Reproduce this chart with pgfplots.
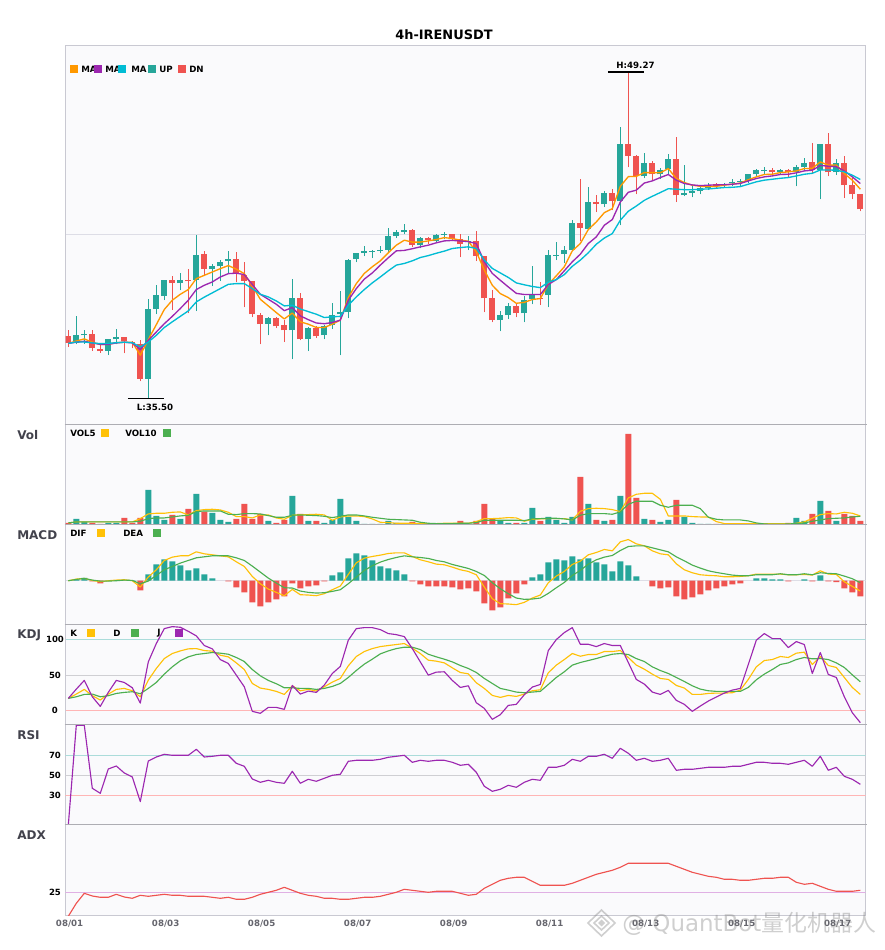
\documentclass[border=0pt]{standalone}
\usepackage{fontspec}
\setmainfont{DejaVu Sans}
\newfontfamily\cjk{Noto Sans CJK SC}
\usepackage{pgfplots}
\usepackage{pgfplotstable}
\pgfplotsset{compat=1.18}
\definecolor{upc}{HTML}{26A69A}
\definecolor{dnc}{HTML}{EF5350}
\definecolor{ma1}{HTML}{FF9800}
\definecolor{ma2}{HTML}{9C27B0}
\definecolor{ma3}{HTML}{00BCD4}
\definecolor{yel}{HTML}{FFC107}
\definecolor{grn}{HTML}{4CAF50}
\definecolor{pur}{HTML}{9C27B0}
\definecolor{bgc}{HTML}{FAFAFC}
\definecolor{bord}{HTML}{C9C9D2}
\definecolor{divi}{HTML}{ADADB3}
\definecolor{gridc}{HTML}{DDDDE6}
\definecolor{hi}{HTML}{ABDCDA}
\definecolor{mid}{HTML}{CFCFD3}
\definecolor{lo}{HTML}{FFB5B5}
\definecolor{adxl}{HTML}{E0B0E4}
\definecolor{lab}{HTML}{42424C}
\definecolor{xlab}{HTML}{66666E}
\pgfplotstableread{
i low high bot top
1 37.79 38.97 37.85 38.17
2 37.82 38.38 38.17 38.22
5 37.34 38.00 37.50 38.00
6 37.79 38.43 38.00 38.09
10 35.50 39.69 36.33 39.27
11 39.06 40.28 39.27 39.86
12 39.65 40.49 39.82 40.49
14 40.07 40.79 40.37 40.49
16 39.19 42.39 40.49 41.55
18 40.24 41.17 40.96 41.08
19 40.45 41.34 41.08 41.25
20 40.79 41.72 41.29 41.38
25 38.17 38.93 38.64 38.89
28 37.16 40.53 38.38 39.73
30 37.50 38.51 38.00 38.47
32 38.00 38.59 38.17 38.55
33 38.43 39.52 38.60 39.02
34 37.33 40.03 39.06 39.14
35 38.89 41.38 39.14 41.34
36 41.25 41.63 41.38 41.63
37 41.51 41.93 41.63 41.72
38 41.42 41.76 41.70 41.73
39 41.63 41.93 41.72 41.76
40 41.67 42.69 41.76 42.35
41 42.27 42.60 42.35 42.52
42 42.43 42.86 42.52 42.60
44 41.84 42.31 41.97 42.27
46 42.10 42.43 42.14 42.39
47 42.22 42.52 42.39 42.43
50 41.76 42.35 42.10 42.14
54 38.34 39.19 38.81 39.02
55 38.85 39.52 39.02 39.40
57 38.72 39.82 39.10 39.65
58 39.48 41.08 39.69 39.86
60 39.35 41.76 39.86 41.55
61 41.34 42.10 41.51 41.55
62 41.21 41.93 41.59 41.76
63 41.76 43.03 41.76 42.90
65 42.65 44.42 42.65 43.78
67 43.57 44.24 43.69 44.16
69 42.81 46.94 43.82 46.23
72 44.79 45.85 44.87 45.42
74 44.75 45.21 44.96 45.13
75 44.96 45.80 45.17 45.59
77 44.03 45.34 44.07 44.16
78 43.99 44.45 44.16 44.24
79 44.11 44.41 44.24 44.37
80 44.29 44.58 44.37 44.45
82 44.37 44.58 44.50 44.54
83 44.45 44.75 44.58 44.62
84 44.45 44.75 44.62 44.66
85 44.58 44.96 44.66 44.96
86 44.83 45.17 44.96 45.13
87 44.92 45.25 45.09 45.13
89 44.92 45.17 45.04 45.13
91 44.45 45.34 45.04 45.25
92 45.09 45.63 45.25 45.42
94 43.90 46.23 45.13 46.23
96 44.92 45.59 45.04 45.42
}\candleup
\pgfplotstableread{
i low high bot top
0 37.68 38.38 37.85 38.13
3 37.51 38.38 37.62 38.22
4 37.43 37.79 37.50 37.58
7 37.41 38.09 37.92 38.09
8 37.62 37.92 37.83 37.88
9 36.23 37.96 36.33 37.79
13 39.23 40.66 40.37 40.49
15 39.10 40.96 40.45 40.49
17 40.66 41.72 40.96 41.59
21 40.41 41.67 40.75 41.38
22 39.35 41.25 40.45 40.70
23 38.93 40.45 39.06 40.45
24 37.79 39.10 38.64 39.02
26 38.47 38.93 38.55 38.89
27 37.88 38.80 38.38 38.59
29 37.96 39.94 38.00 39.73
31 38.05 38.55 38.13 38.47
43 41.89 42.65 41.97 42.60
45 42.01 42.31 42.18 42.27
48 42.14 42.43 42.22 42.43
49 41.46 42.43 42.01 42.22
51 41.30 42.56 41.51 42.14
52 39.14 41.51 39.73 41.51
53 38.72 40.07 38.81 39.73
56 38.93 39.52 39.10 39.40
59 39.44 40.41 39.72 39.76
64 42.14 44.75 42.69 42.90
66 43.36 44.08 43.70 43.78
68 43.44 44.33 43.82 44.16
70 45.25 49.27 45.72 46.23
71 44.11 45.76 44.87 45.72
73 44.71 45.51 44.96 45.42
76 43.78 46.52 44.07 45.59
81 44.37 44.58 44.45 44.54
88 44.87 45.21 45.04 45.13
90 44.83 45.17 45.04 45.13
93 45.00 46.27 45.13 45.47
95 44.87 46.69 45.04 46.23
97 43.95 45.72 44.50 45.42
98 43.90 44.79 44.11 44.50
99 43.40 44.11 43.48 44.11
}\candledn
\pgfplotstableread{
i a b c
0 37.83 37.83 37.83
1 37.93 37.88 37.89
2 38.02 37.92 37.89
3 37.88 37.85 37.85
4 37.78 37.79 37.82
5 37.79 37.79 37.83
6 37.86 37.85 37.86
7 37.88 37.88 37.88
8 37.88 37.85 37.86
9 37.33 37.57 37.68
10 37.99 37.96 37.89
11 38.62 38.31 38.17
12 39.26 38.66 38.50
13 39.65 38.97 38.74
14 39.90 39.30 38.97
15 40.10 39.65 39.20
16 40.56 40.10 39.58
17 40.70 40.28 39.78
18 40.84 40.42 39.96
19 40.98 40.63 40.14
20 41.11 40.77 40.32
21 40.96 40.79 40.35
22 40.77 40.73 40.35
23 40.25 40.31 40.14
24 39.69 39.90 39.90
25 39.41 39.69 39.79
26 39.13 39.48 39.62
27 38.86 39.21 39.41
28 39.11 39.34 39.44
29 38.74 38.99 39.28
30 38.64 38.83 39.17
31 38.50 38.69 39.06
32 38.50 38.66 38.92
33 38.64 38.71 38.95
34 38.81 38.81 38.97
35 39.76 39.65 39.44
36 40.35 40.14 39.79
37 40.78 40.54 40.10
38 41.06 40.80 40.38
39 41.31 41.13 40.63
40 41.65 41.44 40.89
41 41.97 41.73 41.13
42 42.18 41.75 41.20
43 42.10 41.82 41.31
44 42.10 41.90 41.45
45 42.15 41.97 41.53
46 42.21 42.07 41.63
47 42.29 42.15 41.72
48 42.25 42.17 41.83
49 42.18 42.15 41.87
50 42.14 42.12 41.90
51 41.69 42.04 41.83
52 40.92 41.27 41.34
53 40.28 40.78 40.99
54 39.93 40.49 40.80
55 39.76 40.21 40.61
56 39.52 39.94 40.38
57 39.56 39.89 40.30
58 39.68 39.89 40.23
59 39.72 39.89 40.18
60 40.32 40.31 40.41
61 40.68 40.52 40.52
62 41.06 40.89 40.73
63 41.73 41.27 41.08
64 42.04 41.59 41.34
65 42.63 42.04 41.65
66 42.95 42.32 42.01
67 43.34 42.81 42.27
68 43.51 43.05 42.46
69 44.45 43.79 43.02
70 44.86 44.20 43.40
71 44.87 44.29 43.62
72 45.03 44.59 43.86
73 45.03 44.68 44.03
74 45.02 44.82 44.19
75 45.20 44.95 44.35
76 44.78 44.71 44.33
77 44.61 44.57 44.31
78 44.50 44.51 44.31
79 44.45 44.48 44.33
80 44.45 44.50 44.34
81 44.45 44.51 44.37
82 44.50 44.52 44.40
83 44.54 44.54 44.41
84 44.59 44.57 44.44
85 44.73 44.68 44.54
86 44.85 44.78 44.64
87 44.95 44.85 44.71
88 44.96 44.89 44.75
89 45.03 44.95 44.79
90 45.06 44.96 44.82
91 45.10 45.02 44.89
92 45.20 45.10 44.96
93 45.21 45.13 45.00
94 45.48 45.33 45.14
95 45.34 45.30 45.14
96 45.35 45.28 45.13
97 44.99 45.10 45.06
98 44.71 44.85 44.92
99 44.33 44.57 44.74
}\matable
\pgfplotstableread{
i v
1 17
2 8
5 5
6 5
10 104
11 26
12 14
14 17
16 92
18 35
19 14
20 8
25 11
28 86
30 11
32 5
33 14
34 77
35 23
36 11
37 2
38 2
39 2
40 11
41 5
42 4
44 2
46 2
47 2
50 3
54 12
55 5
57 5
58 50
60 23
61 14
62 5
63 23
65 62
67 11
69 86
72 17
74 8
75 14
77 23
78 5
79 2
80 2
82 2
83 1
84 1
85 1
86 1
87 1
89 1
91 20
92 11
94 71
96 11
}\volup
\pgfplotstableread{
i v
0 5
3 5
4 2
7 20
8 5
9 20
13 29
15 47
17 39
21 17
22 62
23 17
24 32
26 5
27 14
29 32
31 11
43 8
45 2
48 2
49 11
51 11
52 62
53 18
56 5
59 11
64 143
66 14
68 14
70 272
71 80
73 14
76 74
81 2
88 1
90 5
93 32
95 41
97 32
98 26
99 11
}\voldn
\pgfplotstableread{
i a b
0 5 5
1 8 8
2 8 8
3 8 8
4 8 8
5 8 8
6 8 8
7 8 8
8 8 8
9 18 10
10 32 18
11 34 20
12 34 20
13 37 23
14 38 26
15 29 28
16 42 39
17 45 41
18 46 41
19 44 41
20 37 31
21 24 30
22 24 33
23 20 33
24 29 32
25 29 27
26 20 22
27 16 22
28 28 28
29 30 29
30 30 28
31 31 27
32 29 25
33 13 21
34 23 25
35 26 29
36 26 29
37 24 26
38 17 22
39 7 19
40 6 16
41 4 15
42 4 14
43 4 13
44 3 7
45 3 4
46 3 3
47 4 3
48 4 3
49 4 4
50 4 4
51 9 6
52 18 13
53 18 13
54 19 13
55 21 13
56 20 13
57 10 12
58 16 17
59 17 18
60 18 19
61 18 19
62 18 17
63 14 14
64 40 28
65 48 33
66 49 33
67 48 33
68 45 31
69 39 38
70 80 61
71 91 70
72 94 70
73 94 70
74 76 58
75 26 52
76 26 58
77 26 58
78 24 58
79 23 48
80 23 22
81 9 16
82 3 14
83 3 14
84 3 14
85 3 11
86 3 5
87 3 2
88 3 1
89 3 1
90 2 2
91 4 3
92 8 5
93 19 10
94 30 14
95 33 18
96 32 19
97 37 20
98 34 23
99 26 25
}\volma
\pgfplotstableread{
i v
1 .04
2 .09
5 .01
6 .01
7 .01
8 .01
10 .19
11 .49
12 .64
13 .58
14 .46
15 .31
16 .37
17 .19
18 .07
33 .16
34 .25
35 .67
36 .82
37 .76
38 .61
39 .43
40 .37
41 .31
42 .19
58 .10
59 .19
60 .55
61 .64
62 .61
63 .73
64 .64
65 .67
66 .55
67 .49
68 .28
69 .58
70 .46
71 .13
86 .07
87 .07
88 .04
89 .04
92 .04
94 .16
}\histup
\pgfplotstableread{
i v
3 -.02
4 -.08
9 -.29
20 -.02
21 -.20
22 -.35
23 -.65
24 -.77
25 -.65
26 -.56
27 -.47
28 -.08
29 -.23
30 -.17
31 -.14
32 -.02
43 -.02
44 -.11
45 -.17
46 -.17
47 -.17
48 -.20
49 -.26
50 -.23
51 -.32
52 -.68
53 -.89
54 -.80
55 -.53
56 -.38
57 -.11
73 -.17
74 -.23
75 -.20
76 -.47
77 -.56
78 -.50
79 -.41
80 -.29
81 -.23
82 -.17
83 -.11
84 -.08
90 -.02
93 -.02
95 -.02
96 -.04
97 -.23
98 -.35
99 -.47
}\histdn
\pgfplotstableread{
i a b
0 0 0
1 .05 .04
2 .07 .07
3 .01 .02
4 -.03 -.01
5 0 -.01
6 .02 0
7 .03 .02
8 0 .01
9 -.19 -.09
10 .11 -.01
11 .33 .16
12 .61 .33
13 .71 .43
14 .75 .53
15 .75 .61
16 .87 .69
17 .81 .72
18 .78 .75
19 .75 .75
20 .72 .75
21 .57 .69
22 .43 .61
23 .13 .44
24 -.09 .26
25 -.25 .08
26 -.35 -.07
27 -.45 -.21
28 -.26 -.22
29 -.42 -.31
30 -.43 -.35
31 -.45 -.37
32 -.39 -.36
33 -.27 -.32
34 -.16 -.27
35 .19 -.09
36 .54 .11
37 .68 .31
38 .73 .45
39 .77 .56
40 .82 .64
41 .84 .70
42 .84 .75
43 .73 .72
44 .63 .70
45 .57 .67
46 .50 .61
47 .48 .57
48 .41 .49
49 .33 .43
50 .28 .37
51 .18 .28
52 -.19 .16
53 -.54 -.06
54 -.69 -.24
55 -.70 -.39
56 -.72 -.52
57 -.65 -.56
58 -.52 -.55
59 -.43 -.52
60 -.06 -.38
61 .14 -.21
62 .28 -.05
63 .49 .16
64 .59 .31
65 .78 .50
66 .85 .63
67 .94 .71
68 .90 .76
69 1.17 .91
70 1.24 1.03
71 1.11 1.05
72 1.05 1.05
73 .90 .99
74 .81 .93
75 .78 .87
76 .51 .72
77 .33 .60
78 .24 .47
79 .18 .38
80 .16 .30
81 .15 .25
82 .12 .21
83 .12 .17
84 .13 .15
85 .15 .15
86 .20 .18
87 .20 .18
88 .20 .18
89 .20 .21
90 .18 .18
91 .18 .18
92 .19 .21
93 .17 .18
94 .30 .24
95 .20 .22
96 .19 .21
97 -.03 .14
98 -.17 .06
99 -.31 -.06
}\macdtable
\pgfplotstableread{
i k d j
0 16.9 16.9 16.9
1 23.0 19.2 30.0
2 29.6 22.5 42.3
3 20.7 23.0 19.2
4 14.6 19.2 5.6
5 23.0 20.7 25.4
6 29.6 23.9 42.3
7 31.0 25.4 39.4
8 27.7 26.3 31.9
9 19.2 23.5 10.3
10 42.7 31.0 68.5
11 59.2 39.4 94.4
12 73.2 51.2 115.5
13 80.3 61.5 118.3
14 84.0 70.0 117.4
15 86.9 75.6 111.7
16 87.3 78.9 105.2
17 84.5 80.3 91.6
18 83.6 81.7 86.9
19 77.9 80.8 71.8
20 75.6 79.3 66.2
21 67.1 74.7 49.8
22 57.7 69.0 33.3
23 38.0 57.7 -1.4
24 31.5 48.8 -4.2
25 29.6 42.3 4.2
26 26.8 37.6 4.2
27 22.5 31.9 1.4
28 34.7 31.9 35.2
29 27.7 31.0 23.0
30 29.6 31.0 27.2
31 27.2 29.6 25.4
32 33.3 31.0 35.7
33 39.9 33.8 52.1
34 45.1 38.0 62.0
35 62.9 46.5 99.1
36 76.1 56.3 115.5
37 83.1 65.3 116.9
38 87.3 72.3 116.9
39 90.1 79.8 114.1
40 91.6 84.0 108.5
41 93.0 87.3 107.0
42 94.4 89.2 104.2
43 87.8 89.2 87.3
44 80.3 85.9 68.5
45 70.9 79.3 49.8
46 69.5 75.6 54.0
47 67.1 72.3 54.5
48 60.1 68.5 42.3
49 53.5 63.4 32.4
50 51.6 59.2 34.7
51 39.0 53.5 10.8
52 31.0 45.1 2.8
53 21.1 38.0 -12.7
54 18.3 31.0 -6.1
55 21.1 28.6 7.0
56 19.7 25.8 8.5
57 23.0 24.9 22.1
58 27.7 25.8 32.9
59 29.1 26.8 36.6
60 53.1 36.6 84.5
61 63.9 46.5 100.0
62 71.8 54.5 109.9
63 80.3 63.9 116.9
64 76.5 67.6 93.4
65 78.9 70.4 93.4
66 78.9 73.2 90.1
67 83.1 76.5 94.4
68 83.1 79.3 91.6
69 84.5 80.3 91.6
70 74.7 78.9 67.6
71 63.9 73.2 43.7
72 58.2 69.0 37.1
73 51.2 61.5 25.8
74 45.1 56.3 22.5
75 43.7 52.1 28.2
76 35.2 46.5 14.1
77 31.5 40.8 8.5
78 22.5 34.7 -1.4
79 22.5 30.0 6.1
80 23.9 27.7 13.1
81 24.4 26.8 18.8
82 24.4 26.8 24.4
83 24.9 26.8 28.6
84 28.6 26.8 31.0
85 43.7 32.4 64.8
86 61.5 43.2 99.1
87 70.4 51.2 108.5
88 71.8 57.7 101.4
89 76.1 64.8 101.4
90 74.7 67.1 88.7
91 80.8 71.8 97.2
92 82.2 74.7 93.0
93 64.8 72.8 52.1
94 76.1 73.2 81.7
95 63.4 71.8 50.7
96 60.6 67.1 46.5
97 46.5 60.6 19.2
98 32.4 50.2 -3.3
99 22.5 40.4 -17.4
}\kdjtable
\pgfplotstableread{
i rsi adx
0 0 1
1 100 14
2 100 24
3 37 21.3
4 32 20
5 56.3 20
6 59.3 23
7 52.3 20.3
8 48.3 19
9 23.7 22
10 64.3 21
11 68.3 22
12 71 23
13 70 22
14 70 22
15 70 21
16 76 21
17 68.3 21
18 69 20
19 70 19
20 70 20
21 62 18
22 59 18
23 46.3 20
24 43 23
25 45 25
26 43 27
27 42 30
28 54 27
29 42 24
30 46 22
31 44 21
32 47 19
33 50 19
34 51 18
35 64 18
36 65 19
37 65 20
38 65 20
39 66 21
40 68 23
41 69 25
42 70 28
43 63 27
44 65 26
45 64 25
46 65 26
47 65 26
48 63 26
49 60 24
50 61 22
51 53 23
52 39 29
53 34 33
54 36 37
55 40 39
56 38 40
57 43 40
58 46 36
59 45 32
60 58 32
61 58 32
62 60 32
63 66 34
64 64 37
65 69 40
66 69 43
67 71 45
68 67 47
69 77 50
70 72 54
71 65 54
72 67 54
73 64 54
74 65 54
75 67 54
76 55 51
77 56 48
78 56 45
79 57 43
80 58 41
81 58 40
82 58 38
83 59 38
84 59 37
85 61 37
86 63 38
87 63 39
88 62 39
89 62 40
90 61 40
91 63 35
92 65 33
93 59 34
94 69 31
95 55 28
96 58 26
97 49 26
98 46 26
99 41 27
}\rsitable
\pgfplotsset{
  panel/.style={scale only axis, width=600pt, xmin=-0.35, xmax=99.65,
    axis background/.style={fill=bgc}, xtick=\empty, ytick=\empty,
    axis line style={color=bord, line width=0.6pt}, anchor=south west,
    major tick length=0pt,
    /pgf/number format/assume math mode=true,
    yticklabel style={font=\fontsize{6.4}{7}\selectfont\bfseries, anchor=center, xshift=-7.9pt}},
  ln/.style={no markers, line width=0.85pt, line join=round},
  gl/.style={no markers, line width=0.6pt, forget plot},
  wick/.style={no markers, draw=none, forget plot, error bars/.cd, y dir=plus, y explicit, error mark=none, error bar style={line width=0.75pt, draw=#1}},
  body/.style={no markers, draw=none, forget plot, error bars/.cd, y dir=plus, y explicit, error mark=none, error bar style={line width=4.5pt, draw=#1}},
  vb/.style={ybar, bar width=4.5pt, bar shift=0pt, fill=#1, draw=none, forget plot},
}
\newcommand{\lf}{\fontsize{6.5}{7}\selectfont\bfseries}
\newcommand{\pf}{\fontsize{9}{10}\selectfont\bfseries\color{lab}}
\begin{document}
\begin{tikzpicture}
\useasboundingbox (0,0) rectangle (663.75pt,712.5pt);
% main
\begin{axis}[panel, at={(49.125pt,394.275pt)}, height=284.5pt, ymin=34.42, ymax=50.41]
\addplot[gl, gridc] coordinates {(-0.35,42.43)(99.65,42.43)};
\addplot[wick=upc] table[x=i, y=low, y error plus expr=\thisrow{high}-\thisrow{low}] {\candleup};
\addplot[wick=dnc] table[x=i, y=low, y error plus expr=\thisrow{high}-\thisrow{low}] {\candledn};
\addplot[body=upc] table[x=i, y=bot, y error plus expr=\thisrow{top}-\thisrow{bot}] {\candleup};
\addplot[body=dnc] table[x=i, y=bot, y error plus expr=\thisrow{top}-\thisrow{bot}] {\candledn};
\addplot[ln, ma1, line width=1pt] table[x=i, y=a] {\matable};
\addplot[ln, ma2, line width=1pt] table[x=i, y=b] {\matable};
\addplot[ln, ma3, line width=1pt] table[x=i, y=c] {\matable};
\addplot[gl, black, line width=0.85pt] coordinates {(67.46,49.27)(71.96,49.27)};
\addplot[gl, black, line width=0.85pt] coordinates {(7.46,35.50)(11.96,35.50)};
\node[font=\lf, text=black] at (axis cs:70.9,49.57) {H:49.27};
\node[font=\lf, text=black] at (axis cs:10.84,35.12) {L:35.50};
\end{axis}
% volume
\begin{axis}[panel, at={(49.125pt,319.05pt)}, height=75.2pt, ymin=0, ymax=301]
\addplot[vb=upc] table[x=i,y=v] {\volup};
\addplot[vb=dnc] table[x=i,y=v] {\voldn};
\addplot[ln, yel] table[x=i,y=a] {\volma};
\addplot[ln, grn] table[x=i,y=b] {\volma};
\end{axis}
% MACD
\begin{axis}[panel, at={(49.125pt,244.275pt)}, height=74.8pt, ymin=-1.31, ymax=1.69]
\addplot[gl, gridc] coordinates {(-0.35,0)(99.65,0)};
\addplot[vb=upc] table[x=i,y=v] {\histup};
\addplot[vb=dnc] table[x=i,y=v] {\histdn};
\addplot[ln, yel] table[x=i,y=a] {\macdtable};
\addplot[ln, grn] table[x=i,y=b] {\macdtable};
\end{axis}
% KDJ
\begin{axis}[panel, at={(49.125pt,169.275pt)}, height=75pt, ymin=-19.7, ymax=121.6, ytick={0,50,100}]
\addplot[gl, hi] coordinates {(-0.35,100)(99.65,100)};
\addplot[gl, mid] coordinates {(-0.35,50)(99.65,50)};
\addplot[gl, lo] coordinates {(-0.35,0)(99.65,0)};
\addplot[ln, yel] table[x=i,y=k] {\kdjtable};
\addplot[ln, grn] table[x=i,y=d] {\kdjtable};
\addplot[ln, pur] table[x=i,y=j] {\kdjtable};
\end{axis}
% RSI
\begin{axis}[panel, at={(49.125pt,94.275pt)}, height=75pt, ymin=1, ymax=101, ytick={30,50,70}]
\addplot[gl, hi] coordinates {(-0.35,70)(99.65,70)};
\addplot[gl, mid] coordinates {(-0.35,50)(99.65,50)};
\addplot[gl, lo] coordinates {(-0.35,30)(99.65,30)};
\addplot[ln, pur] table[x=i,y=rsi] {\rsitable};
\end{axis}
% ADX
\begin{axis}[panel, at={(49.125pt,26.025pt)}, height=68.25pt, ymin=2, ymax=93, ytick={25},
  xtick={0,12,24,36,48,60,72,84,96},
  xticklabels={08/01,08/03,08/05,08/07,08/09,08/11,08/13,08/15,08/17},
  xticklabel style={font=\fontsize{6.5}{7}\selectfont\bfseries, text=xlab, xshift=1pt}]
\addplot[gl, adxl] coordinates {(-0.35,25)(99.65,25)};
\addplot[ln, dnc] table[x=i,y=adx] {\rsitable};
\end{axis}
\begin{scope}[shift={(0pt,712.5pt)}, x=0.75pt, y=-0.75pt]
% panel dividers
\foreach \yy in {424.3,524.6,624.3,724.3,824.3}
  \draw[divi, line width=0.75pt] (64.5,\yy) -- (867,\yy);
% title and panel labels
\node[font=\fontsize{9.7}{11}\selectfont\bfseries] at (444,35) {4h-IRENUSDT};
\node[anchor=west, font=\pf, inner sep=0] at (17,434.7) {Vol};
\node[anchor=west, font=\pf, inner sep=0] at (17,534.7) {MACD};
\node[anchor=west, font=\pf, inner sep=0] at (17,635.5) {KDJ};
\node[anchor=west, font=\pf, inner sep=0] at (17,734.7) {RSI};
\node[anchor=west, font=\pf, inner sep=0] at (17,834.7) {ADX};
% legends
\tikzset{lt/.style={anchor=west, font=\lf, inner sep=0, text=black}}
\fill[ma1] (70,65) rectangle (78,73); \node[lt] at (81,69) {MA};
\fill[ma2] (94,65) rectangle (102,73); \node[lt] at (105,69) {MA};
\fill[ma3] (118,65) rectangle (126,73); \node[lt] at (131,69) {MA};
\fill[upc] (148,65) rectangle (156,73); \node[lt] at (159,69) {UP};
\fill[dnc] (178,65) rectangle (186,73); \node[lt] at (189,69) {DN};
\node[lt] at (70,433.5) {VOL5}; \fill[yel] (101,429) rectangle (109,437);
\node[lt] at (125,433.5) {VOL10}; \fill[grn] (163,429) rectangle (171,437);
\node[lt] at (70,533.5) {DIF}; \fill[yel] (97,529) rectangle (105,537);
\node[lt] at (123,533.5) {DEA}; \fill[grn] (153,529) rectangle (161,537);
\node[lt] at (70,633.5) {K}; \fill[yel] (87,629) rectangle (95,637);
\node[lt] at (113,633.5) {D}; \fill[grn] (131,629) rectangle (139,637);
\node[lt] at (157,633.5) {J}; \fill[pur] (175,629) rectangle (183,637);
% watermark
\begin{scope}[gray, opacity=0.38]
\draw[line width=1.2pt] (588,923) -- (601.5,910) -- (615,923) -- (601.5,936) -- cycle;
\draw[line width=1.2pt] (594,923) -- (601.5,916) -- (609,923) -- (601.5,930) -- cycle;
\fill (598,923) -- (601.5,919.5) -- (605,923) -- (601.5,926.5) -- cycle;
\node[anchor=west, inner sep=0, font=\fontsize{17.2}{18}\selectfont, text=gray] at (622,924) {@ QuantBot{\cjk 量化机器人}};
\end{scope}
\end{scope}
\end{tikzpicture}
\end{document}
